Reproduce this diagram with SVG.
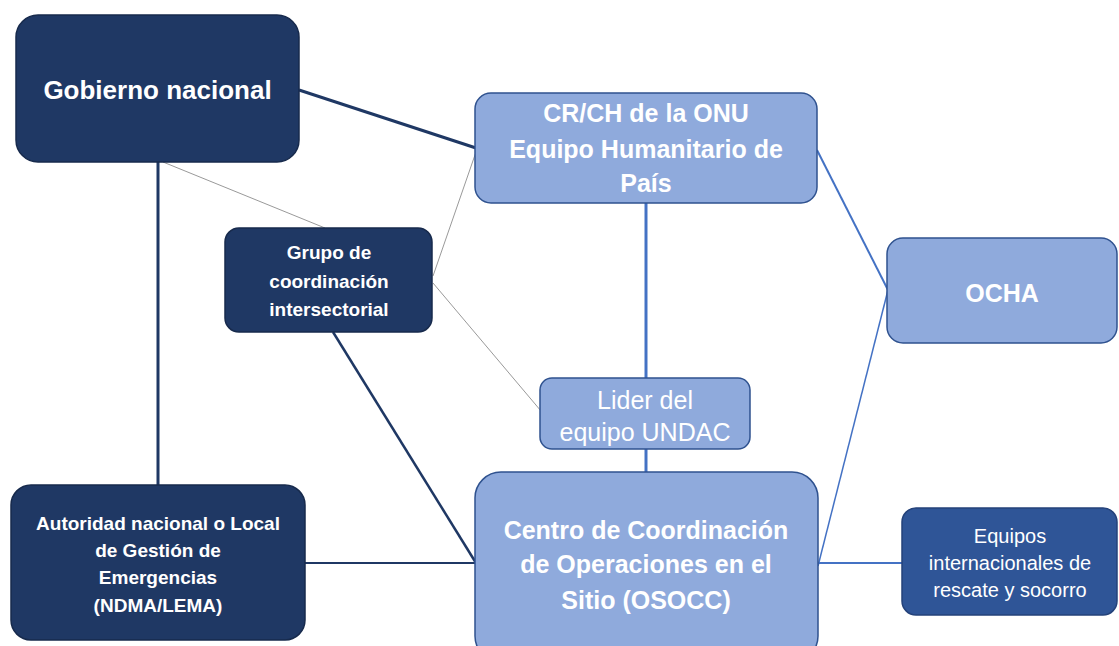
<svg xmlns="http://www.w3.org/2000/svg" width="1119" height="646" viewBox="0 0 1119 646">
<style>
.dark{fill:#1f3864;stroke:#172a4c;stroke-width:1.5}
.light{fill:#8faadc;stroke:#2f528f;stroke-width:1.5}
.mid{fill:#2f5597;stroke:#24427a;stroke-width:1.5}
text{font-family:"Liberation Sans",Arial,sans-serif;fill:#ffffff;text-anchor:middle}
.b{font-weight:bold}
.cd{stroke:#1f3864;fill:none}
.cb{stroke:#4472c4;fill:none}
.cg{stroke:#7f7f7f;fill:none;stroke-width:0.8}
</style>
<g id="connectors">
<line class="cd" x1="299" y1="90" x2="476" y2="148" stroke-width="3"/>
<line class="cd" x1="158" y1="162" x2="158" y2="486" stroke-width="3"/>
<line class="cg" x1="163" y1="162" x2="325" y2="228"/>
<line class="cg" x1="433" y1="276" x2="476" y2="152"/>
<line class="cg" x1="433" y1="283" x2="541" y2="411"/>
<line class="cd" x1="333" y1="332" x2="476" y2="563" stroke-width="2.5"/>
<line class="cd" x1="305" y1="563" x2="476" y2="563" stroke-width="2"/>
<line class="cb" x1="646" y1="203" x2="646" y2="379" stroke-width="3"/>
<line class="cb" x1="646" y1="449" x2="646" y2="473" stroke-width="3"/>
<line class="cb" x1="817" y1="150" x2="888" y2="290" stroke-width="2"/>
<line class="cb" x1="888" y1="290" x2="818" y2="566" stroke-width="1.5"/>
<line class="cb" x1="818" y1="563" x2="903" y2="563" stroke-width="2"/>
</g>
<g id="gobierno">
<rect class="dark" x="16" y="15" width="283" height="147" rx="22"/>
<text class="b" x="157.5" y="99" font-size="26">Gobierno nacional</text>
</g>
<g id="crch">
<rect class="light" x="475" y="93" width="342" height="110" rx="16"/>
<text class="b" x="646" y="122" font-size="25">CR/CH de la ONU</text>
<text class="b" x="646" y="158" font-size="25">Equipo Humanitario de</text>
<text class="b" x="646" y="192" font-size="25">País</text>
</g>
<g id="ocha">
<rect class="light" x="887" y="238" width="230" height="105" rx="16"/>
<text class="b" x="1002" y="302" font-size="25">OCHA</text>
</g>
<g id="grupo">
<rect class="dark" x="225" y="228" width="207" height="104" rx="14"/>
<text class="b" x="329" y="259" font-size="19">Grupo de</text>
<text class="b" x="329" y="288" font-size="19">coordinación</text>
<text class="b" x="329" y="316" font-size="19">intersectorial</text>
</g>
<g id="lider">
<rect class="light" x="540" y="378" width="210" height="71" rx="12"/>
<text x="645" y="409" font-size="25" fill="#f2f2f2">Lider del</text>
<text x="645" y="441" font-size="25" fill="#f2f2f2">equipo UNDAC</text>
</g>
<g id="osocc">
<rect class="light" x="475" y="472" width="343" height="190" rx="26"/>
<text class="b" x="646" y="539" font-size="25">Centro de Coordinación</text>
<text class="b" x="646" y="573" font-size="25">de Operaciones en el</text>
<text class="b" x="646" y="609" font-size="25">Sitio (OSOCC)</text>
</g>
<g id="autoridad">
<rect class="dark" x="11" y="485" width="294" height="155" rx="20"/>
<text class="b" x="158" y="530" font-size="19">Autoridad nacional o Local</text>
<text class="b" x="158" y="557" font-size="19">de Gestión de</text>
<text class="b" x="158" y="584" font-size="19">Emergencias</text>
<text class="b" x="158" y="612" font-size="19">(NDMA/LEMA)</text>
</g>
<g id="equipos">
<rect class="mid" x="902" y="508" width="215" height="107" rx="14"/>
<text x="1010" y="543" font-size="20">Equipos</text>
<text x="1010" y="570" font-size="20">internacionales de</text>
<text x="1010" y="597" font-size="20">rescate y socorro</text>
</g>
</svg>
